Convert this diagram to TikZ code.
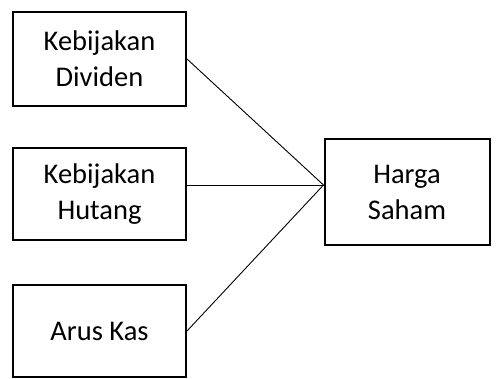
\documentclass[tikz,border=0pt]{standalone}
\usepackage{fontspec}
\setmainfont{Carlito}
\usetikzlibrary{calc}
\begin{document}
\begin{tikzpicture}[x=1pt,y=-1pt,
  boxstyle/.style={draw=black,line width=2pt,inner sep=0pt,align=center,font=\fontsize{28.5}{36}\selectfont},
  link/.style={draw=black,line width=0.9pt}]
\useasboundingbox (0,0) rectangle (497,379);
\node[boxstyle,minimum width=173pt,minimum height=94pt] (b1) at (99.5,59) {Kebijakan\\Dividen};
\node[boxstyle,minimum width=173pt,minimum height=92pt] (b2) at (99.5,194) {Kebijakan\\Hutang};
\node[boxstyle,minimum width=173pt,minimum height=92pt] (b3) at (99.5,331) {Arus Kas};
\node[boxstyle,minimum width=165pt,minimum height=106pt] (hs) at (407,192) {Harga\\Saham};
\coordinate (c) at ($(hs.west)+(0,-7)$);
\draw[link] (b1.east) -- (c);
\draw[link] (b2.east |- c) -- (c);
\draw[link] (b3.east) -- (c);
\end{tikzpicture}
\end{document}
